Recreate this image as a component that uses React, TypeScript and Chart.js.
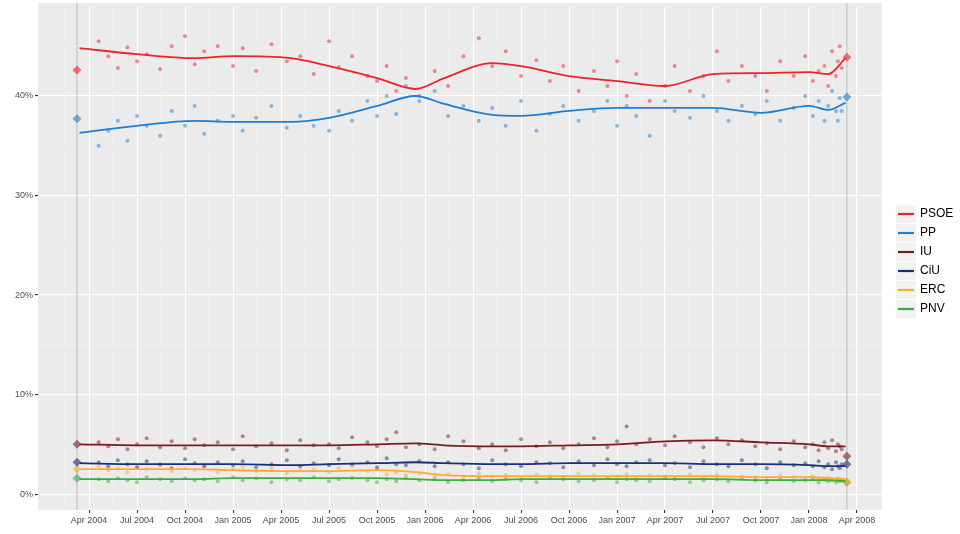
import React, { useEffect, useRef } from "react";
import { Chart, registerables } from "chart.js";
Chart.register(...registerables);

const parties = ["PSOE", "PP", "IU", "CiU", "ERC", "PNV"];
const colors = ["#ee2229", "#1d7fd2", "#7a1c1f", "#1b2f78", "#ffaa33", "#3aad3a"];

const pollDates = [2004.30,2004.35,2004.40,2004.45,2004.50,2004.55,2004.62,2004.68,2004.75,2004.80,2004.85,2004.92,2005.00,2005.05,2005.12,2005.20,2005.28,2005.35,2005.42,2005.50,2005.55,2005.62,2005.70,2005.75,2005.80,2005.85,2005.90,2005.97,2006.05,2006.12,2006.20,2006.28,2006.35,2006.42,2006.50,2006.58,2006.65,2006.72,2006.80,2006.88,2006.95,2007.00,2007.05,2007.10,2007.17,2007.25,2007.30,2007.38,2007.45,2007.52,2007.58,2007.65,2007.72,2007.78,2007.85,2007.92,2007.98,2008.02,2008.05,2008.08,2008.10,2008.12,2008.14,2008.15,2008.16,2008.17];
const psoePolls = [45.5,44.0,42.8,44.9,43.5,44.2,42.7,45.0,46.0,43.2,44.5,45.0,43.0,44.8,42.5,45.2,43.5,44.0,42.2,45.5,42.9,44.0,42.0,41.5,43.0,40.5,41.8,40.0,42.5,41.0,44.0,45.8,43.0,44.5,42.0,43.6,41.5,43.0,40.5,42.5,41.0,43.5,40.0,42.2,39.5,41.0,43.0,40.5,42.0,44.5,41.5,43.0,42.0,40.5,43.5,42.0,44.0,41.5,42.5,43.0,41.0,44.5,42.0,43.5,45.0,42.8];
const ppPolls = [35.0,36.5,37.5,35.5,38.0,37.0,36.0,38.5,37.0,39.0,36.2,37.5,38.0,36.5,37.8,39.0,36.8,38.0,37.0,36.5,38.5,37.5,39.5,38.0,40.0,38.2,41.0,39.5,40.5,38.0,39.0,37.5,38.8,37.0,39.5,36.5,38.2,39.0,37.5,38.5,39.5,37.0,39.0,38.0,36.0,39.5,38.5,37.8,40.0,38.5,37.5,39.0,38.2,39.5,37.5,38.8,40.0,38.0,39.5,37.5,39.0,40.5,38.5,37.5,39.8,38.5];
const iuPolls = [5.2,4.8,5.5,4.5,5.0,5.6,4.7,5.3,4.6,5.5,4.9,5.2,4.5,5.8,4.8,5.1,4.4,5.4,4.9,5.0,4.6,5.7,5.2,4.8,5.5,6.2,4.7,5.0,4.5,5.8,5.3,4.6,5.0,4.4,5.5,4.8,5.2,4.6,5.0,5.6,4.7,5.3,6.8,5.0,5.5,4.9,5.8,5.2,4.7,5.6,5.0,5.4,4.8,5.1,4.5,5.3,4.7,5.0,4.4,5.2,4.6,5.4,4.3,5.0,4.8,4.5];
const ciuPolls = [3.2,2.8,3.4,3.0,2.7,3.3,3.0,2.6,3.5,3.1,2.8,3.2,2.9,3.3,2.7,3.0,3.4,2.8,3.1,2.9,3.5,3.0,3.2,2.7,3.6,3.0,2.9,3.3,2.8,3.2,3.0,2.6,3.4,3.0,2.8,3.2,3.1,2.7,3.3,2.9,3.5,3.0,2.8,3.2,3.4,2.9,3.1,2.7,3.3,3.0,2.8,3.4,3.0,2.6,3.2,2.9,3.1,2.8,3.3,2.7,3.0,2.5,3.2,2.8,2.6,3.0];
const ercPolls = [2.8,2.4,2.6,2.2,2.7,2.5,2.9,2.3,2.6,2.4,2.8,2.2,2.5,2.7,2.3,2.6,2.1,2.4,2.5,2.2,2.6,2.8,2.3,2.5,2.0,2.2,1.9,2.1,1.8,2.0,1.7,2.1,1.8,1.9,1.6,2.0,1.8,1.7,2.1,1.9,1.6,1.8,2.0,1.7,1.9,1.8,1.6,2.0,1.7,1.9,1.5,1.8,1.7,1.6,1.9,1.7,1.5,1.8,1.6,1.4,1.7,1.5,1.3,1.6,1.4,1.5];
const pnvPolls = [1.5,1.3,1.6,1.4,1.2,1.7,1.5,1.3,1.6,1.4,1.5,1.3,1.7,1.4,1.6,1.2,1.5,1.4,1.7,1.3,1.5,1.6,1.4,1.2,1.5,1.3,1.6,1.4,1.5,1.2,1.4,1.6,1.3,1.5,1.4,1.2,1.6,1.5,1.3,1.4,1.6,1.2,1.5,1.4,1.3,1.6,1.5,1.2,1.4,1.5,1.3,1.6,1.4,1.2,1.5,1.3,1.4,1.6,1.2,1.5,1.3,1.4,1.2,1.5,1.3,1.4];

const trendDates = [2004.2,2004.5,2004.8,2005.0,2005.3,2005.5,2005.75,2005.95,2006.1,2006.35,2006.5,2006.75,2007.0,2007.25,2007.5,2007.75,2008.0,2008.1,2008.19];
const psoeTrend = [44.8,44.2,43.8,44.0,43.8,43.0,41.8,40.7,41.8,43.3,43.0,42.0,41.5,41.0,42.2,42.3,42.4,42.2,43.8];
const ppTrend = [36.3,37.0,37.5,37.4,37.4,37.8,39.0,40.0,39.2,38.1,38.0,38.5,38.8,38.8,38.8,38.3,39.0,38.6,39.3];
const iuTrend = [5.0,4.9,4.9,4.9,4.9,4.9,5.0,5.1,4.9,4.8,4.8,4.9,5.0,5.3,5.4,5.2,5.0,4.8,4.8];
const ciuTrend = [3.1,3.0,3.0,3.0,2.9,3.0,3.1,3.2,3.1,3.0,3.0,3.1,3.1,3.1,3.0,3.0,2.9,2.8,2.8];
const ercTrend = [2.5,2.5,2.5,2.4,2.3,2.3,2.4,2.2,1.9,1.8,1.8,1.8,1.8,1.8,1.8,1.7,1.7,1.6,1.5];
const pnvTrend = [1.5,1.5,1.5,1.6,1.6,1.6,1.6,1.5,1.4,1.4,1.5,1.5,1.5,1.5,1.5,1.4,1.4,1.4,1.3];

const electionDates = [2004.187, 2008.197];
const result2004 = [42.6, 37.7, 5.0, 3.2, 2.5, 1.6];
const result2008 = [43.9, 39.9, 3.8, 3.0, 1.2, 1.2];

const monthNames: Record<number, string> = { 0: "Jan", 0.25: "Apr", 0.5: "Jul", 0.75: "Oct" };

function alpha(hex: string, a: number) {
  const n = parseInt(hex.slice(1), 16);
  return `rgba(${(n >> 16) & 255},${(n >> 8) & 255},${n & 255},${a})`;
}

export default function App() {
  const ref = useRef<HTMLCanvasElement>(null);
  useEffect(() => {
    const polls = [psoePolls, ppPolls, iuPolls, ciuPolls, ercPolls, pnvPolls];
    const trends = [psoeTrend, ppTrend, iuTrend, ciuTrend, ercTrend, pnvTrend];
    const datasets: any[] = [];
    parties.forEach((p, i) => {
      datasets.push({
        type: "scatter",
        label: p + " polls",
        data: pollDates.map((d, j) => ({ x: d, y: polls[i][j] })),
        pointRadius: 2,
        pointBorderWidth: 0,
        backgroundColor: alpha(colors[i], 0.5),
        order: 3,
      });
    });
    parties.forEach((p, i) => {
      datasets.push({
        type: "line",
        label: p,
        data: trendDates.map((d, j) => ({ x: d, y: trends[i][j] })),
        borderColor: colors[i],
        borderWidth: 1.8,
        pointRadius: 0,
        tension: 0.4,
        cubicInterpolationMode: "monotone",
        order: 1,
      });
      datasets.push({
        type: "scatter",
        label: p + " result",
        data: [
          { x: electionDates[0], y: result2004[i] },
          { x: electionDates[1], y: result2008[i] },
        ],
        pointStyle: "rectRot",
        pointRadius: 4.5,
        pointBorderWidth: 0,
        backgroundColor: alpha(colors[i], 0.6),
        order: 2,
      });
    });

    const bgPlugin = {
      id: "bg",
      beforeDraw(chart: any) {
        const { ctx, chartArea: a } = chart;
        ctx.save();
        ctx.fillStyle = "#ebebeb";
        ctx.fillRect(a.left, 3, a.right - a.left, a.bottom - 3);
        ctx.restore();
      },
      beforeDatasetsDraw(chart: any) {
        const { ctx, chartArea: a, scales } = chart;
        ctx.save();
        ctx.strokeStyle = "#bdbdbd";
        ctx.lineWidth = 1;
        electionDates.forEach((d) => {
          const x = scales.x.getPixelForValue(d);
          ctx.beginPath();
          ctx.moveTo(x, 3);
          ctx.lineTo(x, a.bottom);
          ctx.stroke();
        });
        ctx.restore();
      },
      afterDraw(chart: any) {
        const { ctx } = chart;
        ctx.save();
        ctx.font = "12px 'Liberation Sans', Arial, sans-serif";
        ctx.textBaseline = "middle";
        parties.forEach((p, i) => {
          const y = 214 + i * 19;
          ctx.fillStyle = "#f2f2f2";
          ctx.fillRect(896, y - 9, 20, 18);
          ctx.strokeStyle = colors[i];
          ctx.lineWidth = 2.2;
          ctx.beginPath();
          ctx.moveTo(898, y);
          ctx.lineTo(914, y);
          ctx.stroke();
          ctx.fillStyle = "#000";
          ctx.fillText(p, 920, y);
        });
        ctx.restore();
      },
    };

    const chart = new Chart(ref.current!, {
      data: { datasets },
      options: {
        animation: false,
        responsive: false,
        layout: { padding: { top: 0, right: 78, left: 0, bottom: 0 } },
        plugins: { legend: { display: false }, tooltip: { enabled: false } },
        scales: {
          x: {
            type: "linear",
            min: 2003.984,
            max: 2008.38,
            afterBuildTicks(scale: any) {
              const t = [];
              for (let k = 0; k <= 34; k++) t.push({ value: 2004.125 + k * 0.125 });
              scale.ticks = t.filter((o: any) => o.value < 2008.38);
            },
            afterFit(scale: any) { scale.height = 24; },
            ticks: {
              autoSkip: false,
              maxRotation: 0,
              color: "#4d4d4d",
              font: { size: 9, family: "'Liberation Sans', Arial, sans-serif" },
              padding: 2,
              callback(v: any) {
                const yr = Math.floor(v + 1e-6);
                const f = Math.round((v - yr) * 1000) / 1000;
                return f in monthNames ? `${monthNames[f]} ${yr}` : "";
              },
            },
            grid: {
              color(c: any) {
                const v = c.tick.value;
                return Math.abs(v * 4 - Math.round(v * 4)) < 1e-6 ? "#ffffff" : "#f4f4f4";
              },
              lineWidth(c: any) {
                const v = c.tick.value;
                return Math.abs(v * 4 - Math.round(v * 4)) < 1e-6 ? 1.1 : 0.5;
              },
              tickColor(c: any) {
                const v = c.tick.value;
                return Math.abs(v * 4 - Math.round(v * 4)) < 1e-6 ? "#333333" : "rgba(0,0,0,0)";
              },
              tickLength: 3,
            },
            border: { display: false },
          },
          y: {
            type: "linear",
            min: -1.6,
            max: 48.9,
            afterBuildTicks(scale: any) {
              const t = [];
              for (let k = 0; k <= 9; k++) t.push({ value: k * 5 });
              scale.ticks = t;
            },
            afterFit(scale: any) { scale.width = 38; },
            ticks: {
              autoSkip: false,
              color: "#4d4d4d",
              font: { size: 9, family: "'Liberation Sans', Arial, sans-serif" },
              padding: 2,
              callback(v: any) { return v % 10 === 0 ? `${v}%` : ""; },
            },
            grid: {
              color(c: any) { return c.tick.value % 10 === 0 ? "#ffffff" : "#f4f4f4"; },
              lineWidth(c: any) { return c.tick.value % 10 === 0 ? 1.1 : 0.5; },
              tickColor(c: any) { return c.tick.value % 10 === 0 ? "#333333" : "rgba(0,0,0,0)"; },
              tickLength: 3,
            },
            border: { display: false },
          },
        },
      } as any,
      plugins: [bgPlugin],
    } as any);
    return () => chart.destroy();
  }, []);
  return (
    <div style={{ position: "absolute", left: 0, top: 0, width: 960, height: 534, background: "#fff" }}>
      <canvas ref={ref} width={960} height={534} style={{ width: 960, height: 534 }} />
    </div>
  );
}
